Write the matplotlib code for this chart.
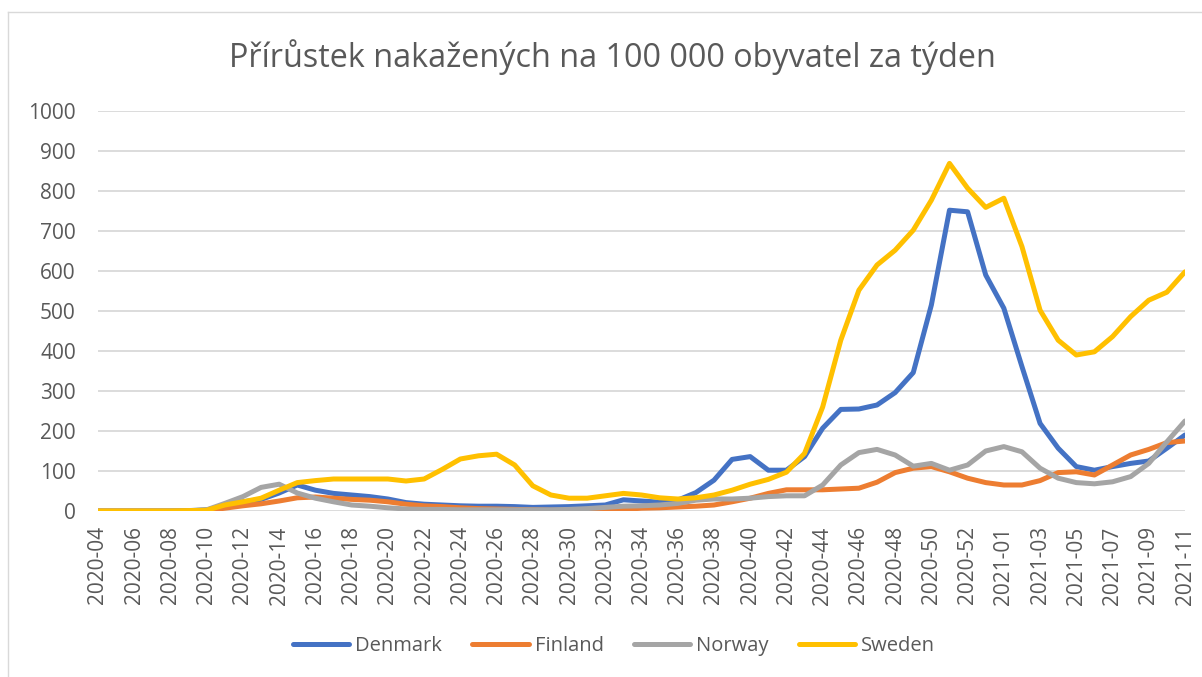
import matplotlib
matplotlib.use("Agg")
import matplotlib.pyplot as plt
from matplotlib.lines import Line2D

plt.rcParams['font.family'] = ['Open Sans', 'DejaVu Sans']

# week labels 2020-04 .. 2021-11 (2020 has 53 weeks)
weeks = [f"2020-{w:02d}" for w in range(4, 54)] + [f"2021-{w:02d}" for w in range(1, 12)]

denmark = [0, 0, 0, 0, 0, 1, 3, 11, 23, 29, 45, 65, 52, 44, 40, 36, 30, 21, 17, 15,
           13, 12, 12, 11, 9, 10, 11, 13, 15, 28, 25, 22, 27, 46, 77, 129, 136, 102, 102, 136,
           207, 254, 255, 265, 296, 346, 515, 752, 748, 590, 507, 361, 219, 157, 111, 102, 111, 119, 125, 157,
           190]
finland = [0, 0, 0, 0, 0, 0, 1, 7, 13, 18, 25, 33, 35, 32, 29, 27, 23, 17, 13, 11,
           8, 6, 5, 4, 3, 2, 2, 3, 3, 4, 7, 8, 10, 12, 15, 23, 32, 44, 53, 53,
           53, 55, 57, 72, 96, 107, 111, 98, 82, 71, 65, 65, 76, 96, 98, 90, 115, 140, 154, 171,
           175]
norway = [0, 0, 0, 0, 0, 0, 3, 19, 36, 59, 67, 45, 32, 23, 15, 12, 8, 5, 4, 4,
          3, 3, 3, 3, 3, 3, 4, 6, 9, 12, 13, 15, 19, 27, 30, 30, 32, 36, 38, 38,
          65, 115, 146, 154, 140, 112, 119, 102, 115, 150, 161, 148, 107, 82, 71, 68, 73, 86, 119, 173,
          225]
sweden = [0, 0, 0, 0, 0, 1, 2, 15, 23, 32, 52, 71, 76, 80, 80, 80, 80, 75, 80, 104,
          130, 138, 142, 115, 63, 40, 32, 32, 38, 44, 40, 33, 30, 33, 40, 52, 67, 79, 97, 144,
          260, 427, 552, 615, 652, 702, 777, 869, 807, 759, 782, 661, 502, 427, 390, 398, 436, 486, 527, 547,
          598]

series = [("Denmark", denmark, "#4472C4"),
          ("Finland", finland, "#ED7D31"),
          ("Norway", norway, "#A5A5A5"),
          ("Sweden", sweden, "#FFC000")]

txt = "#595959"

fig = plt.figure(figsize=(12.02, 6.77), dpi=100)
ax = fig.add_axes([98 / 1202, 1 - 511 / 677, 1087 / 1202, 400 / 677])

x = list(range(len(weeks)))
for name, vals, col in series:
    ax.plot(x, vals, color=col, lw=3.6, label=name,
            solid_joinstyle='round', solid_capstyle='round')

ax.set_xlim(0, len(weeks) - 1)
ax.set_ylim(0, 1000)
ax.set_yticks(range(0, 1001, 100))
ax.set_xticks(x[::2])
ax.set_xticklabels(weeks[::2], rotation=90, fontsize=15, color=txt)
ax.tick_params(axis='y', labelsize=15, labelcolor=txt, length=0, pad=16)
ax.tick_params(axis='x', length=0, pad=11)
ax.grid(axis='y', color='#D9D9D9', lw=1.3)
ax.set_axisbelow(True)
for s in ax.spines.values():
    s.set_visible(False)

fig.text(612 / 1202, 1 - 57 / 677, "Přírůstek nakažených na 100 000 obyvatel za týden",
         ha='center', va='center', fontsize=23.3, color=txt)

fig.legend(loc='center', bbox_to_anchor=(614 / 1202, 1 - 646 / 677), ncol=4,
           frameon=False, fontsize=14.5, labelcolor=txt, handlelength=2.8,
           handletextpad=0.3, columnspacing=1.5)

# chart area border (top/left visible in the reference)
fig.add_artist(Line2D([8 / 1202, 8 / 1202], [0, 1 - 12 / 677], transform=fig.transFigure,
                      color='#D9D9D9', lw=1))
fig.add_artist(Line2D([8 / 1202, 1], [1 - 12 / 677, 1 - 12 / 677], transform=fig.transFigure,
                      color='#D9D9D9', lw=1))

fig.savefig("out.png", dpi=100)
